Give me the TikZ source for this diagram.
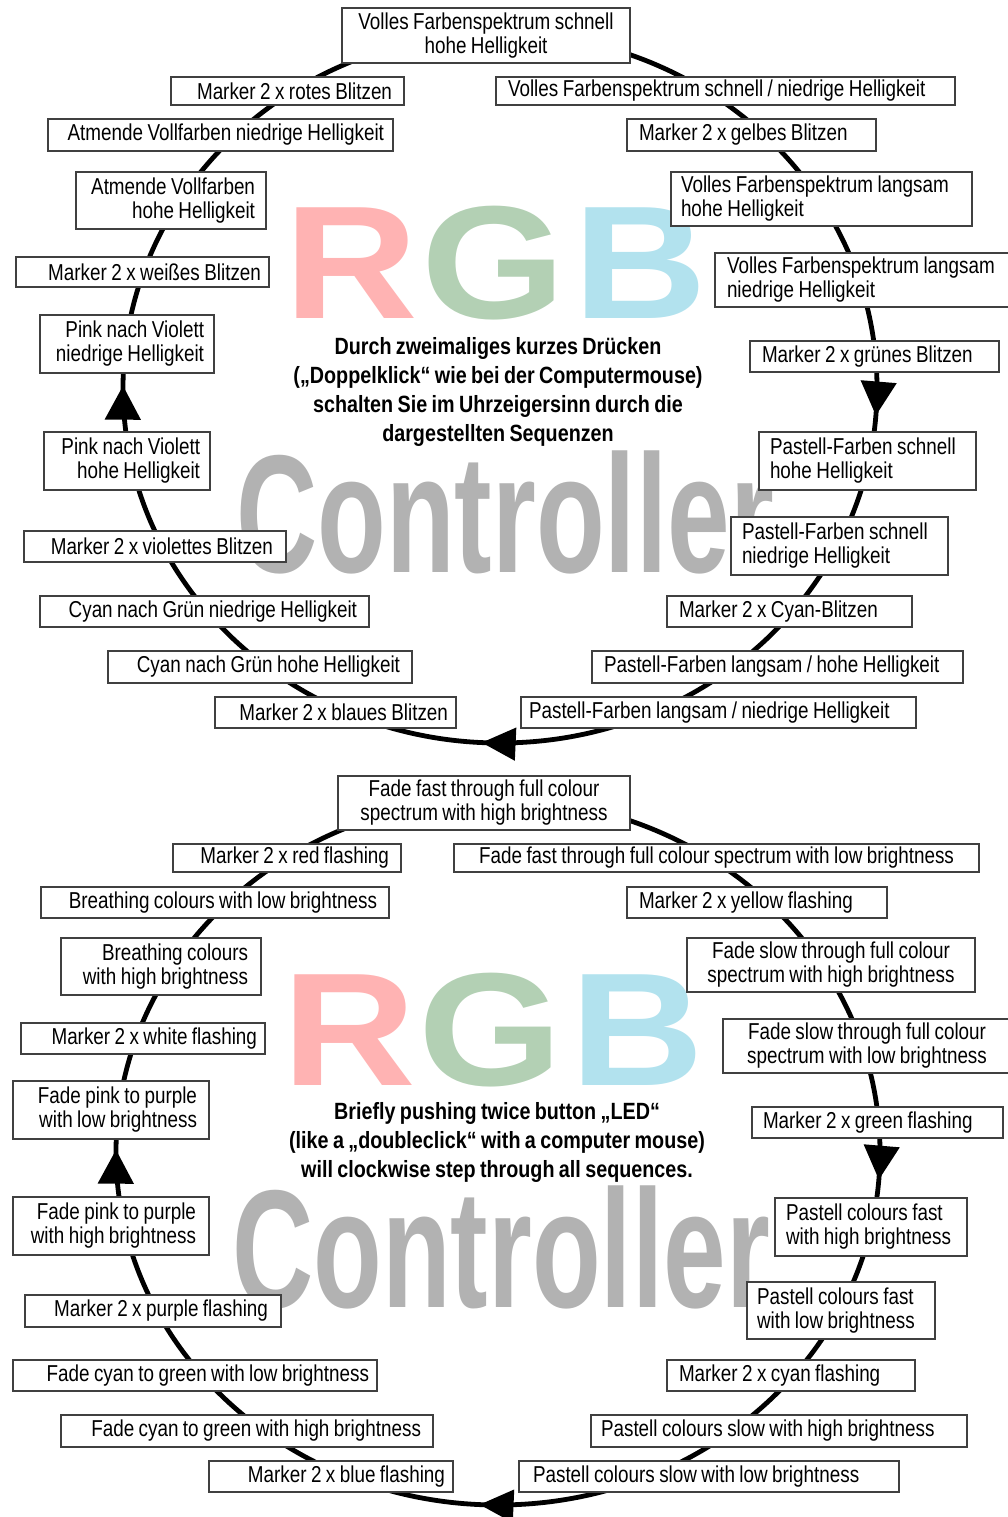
\documentclass[tikz,border=0pt]{standalone}
\usepackage{fontspec}
\setmainfont{Liberation Sans}[FakeStretch=0.82,WordSpace=0.85]
\newfontfamily\rgbfont{Liberation Sans}[FakeStretch=1.15]
\newfontfamily\ctrlfont{Liberation Sans}[FakeStretch=0.67]
\newfontfamily\notefont{Liberation Sans}[FakeStretch=0.84,WordSpace=0.8]
\usetikzlibrary{arrows.meta,decorations.markings}

\definecolor{rgbred}{RGB}{255,179,179}
\definecolor{rgbgreen}{RGB}{179,208,180}
\definecolor{rgbblue}{RGB}{178,226,238}
\definecolor{ctrlgray}{RGB}{178,178,178}

\tikzset{
  seq/.style={draw=black!75, line width=1.2pt, fill=white, inner ysep=0pt, font=\fontsize{23}{24}\selectfont},
  seql/.style={seq, align=flush left},
  seqr/.style={seq, align=flush right},
  seqc/.style={seq, align=center, inner xsep=0pt},
  ring/.style={line width=4.8pt, postaction={decorate}, decoration={markings,
      mark=at position 0.012 with {\arrow{Triangle[length=34pt,width=35pt]}},
      mark=at position 0.258 with {\arrow{Triangle[length=34pt,width=32pt]}},
      mark=at position 0.501 with {\arrow{Triangle[length=34pt,width=35pt]}}}},
  rgbletter/.style={inner sep=0pt, anchor=base, text height=116pt, text depth=0pt, font=\rgbfont\bfseries\fontsize{161}{161}\selectfont},
  ctrl/.style={inner sep=0pt, anchor=base, text height=121pt, text depth=0pt, text=ctrlgray, font=\ctrlfont\bfseries\fontsize{168}{168}\selectfont},
  note/.style={inner sep=0pt, align=center, font=\notefont\bfseries\fontsize{23.5}{28.7}\selectfont}
}

\begin{document}
\begin{tikzpicture}[x=1pt,y=1pt,yscale=-1,xscale=1]
\useasboundingbox (0,0) rectangle (1007,1517);

% Background lettering
\node [rgbletter, text=rgbred] (r1) at (351.5,318) {R};
\node [rgbletter, text=rgbgreen] (g1) at (494,318) {G};
\node [rgbletter, text=rgbblue] (bl1) at (640,318) {B};
\node [ctrl] (ctl1) at (505,572) {Controller};
\node [rgbletter, text=rgbred] (r2) at (349.5,1085) {R};
\node [rgbletter, text=rgbgreen] (g2) at (491,1085) {G};
\node [rgbletter, text=rgbblue] (bl2) at (637,1085) {B};
\node [ctrl] (ctl2) at (501,1307) {Controller};

% Text Node
\node [note] (hint1) at (498,392) {Durch zweimaliges kurzes Drücken\\(„Doppelklick“ wie bei der Computermouse)\\schalten Sie im Uhrzeigersinn durch die\\dargestellten Sequenzen};
% Text Node
\node [note] (hint2) at (497,1142.5) {Briefly pushing twice button „LED“\\(like a „doubleclick“ with a computer mouse)\\will clockwise step through all sequences.};

%Ring top
\coordinate (o1) at (500,388);
\draw [ring] (o1) ellipse [x radius=377, y radius=355];
%Ring bottom
\coordinate (o2) at (498,1152);
\draw [ring] (o2) ellipse [x radius=382, y radius=353];

% German sequence, clockwise from the top
\node [seqc, minimum width=288pt, minimum height=55pt] (a1) at (486,35.5) {Volles Farbenspektrum schnell\\hohe Helligkeit};
\node [seql, text width=435pt, inner xsep=12pt, minimum height=28pt] (a2) at (725.5,91) {Volles Farbenspektrum schnell / niedrige Helligkeit};
\node [seql, text width=225pt, inner xsep=12pt, minimum height=32pt] (a3) at (751.5,135) {Marker 2 x gelbes Blitzen};
\node [seql, text width=281pt, inner xsep=10pt, minimum height=54pt] (a4) at (821.5,199) {Volles Farbenspektrum langsam\\hohe Helligkeit};
\node [seql, text width=281pt, inner xsep=12pt, minimum height=54pt] (a5) at (867.5,280) {Volles Farbenspektrum langsam\\niedrige Helligkeit};
\node [seql, text width=225pt, inner xsep=12pt, minimum height=31pt] (a6) at (874.5,356.5) {Marker 2 x grünes Blitzen};
\node [seql, text width=195pt, inner xsep=11pt, minimum height=58pt] (a7) at (867.5,461) {Pastell-Farben schnell\\hohe Helligkeit};
\node [seql, text width=195pt, inner xsep=11pt, minimum height=58pt] (a8) at (839.5,546) {Pastell-Farben schnell\\niedrige Helligkeit};
\node [seql, text width=221pt, inner xsep=12pt, minimum height=31pt] (a9) at (789.5,611.5) {Marker 2 x Cyan-Blitzen};
\node [seql, text width=347pt, inner xsep=12pt, minimum height=32pt] (a10) at (777.5,667) {Pastell-Farben langsam / hohe Helligkeit};
\node [seql, text width=379pt, inner xsep=8pt, minimum height=31pt] (a11) at (718.5,712.5) {Pastell-Farben langsam / niedrige Helligkeit};
\node [seqr, text width=225pt, inner xsep=8pt, minimum height=31pt] (a12) at (335.5,712.5) {Marker 2 x blaues Blitzen};
\node [seqr, text width=280pt, inner xsep=12pt, minimum height=32pt] (a13) at (260,667) {Cyan nach Grün hohe Helligkeit};
\node [seqr, text width=305pt, inner xsep=12pt, minimum height=31pt] (a14) at (204.5,611.5) {Cyan nach Grün niedrige Helligkeit};
\node [seqr, text width=236pt, inner xsep=13pt, minimum height=31pt] (a15) at (155,546.5) {Marker 2 x violettes Blitzen};
\node [seqr, text width=146pt, inner xsep=10pt, minimum height=58pt] (a16) at (127,461) {Pink nach Violett\\hohe Helligkeit};
\node [seqr, text width=154pt, inner xsep=10pt, minimum height=58pt] (a17) at (127,344) {Pink nach Violett\\niedrige Helligkeit};
\node [seqr, text width=237pt, inner xsep=8pt, minimum height=30pt] (a18) at (142.5,272) {Marker 2 x weißes Blitzen};
\node [seqr, text width=168pt, inner xsep=11pt, minimum height=57pt] (a19) at (171,200.5) {Atmende Vollfarben\\hohe Helligkeit};
\node [seqr, text width=327pt, inner xsep=9pt, minimum height=32pt] (a20) at (220.5,135) {Atmende Vollfarben niedrige Helligkeit};
\node [seqr, text width=209pt, inner xsep=12pt, minimum height=28pt] (a21) at (287.5,91) {Marker 2 x rotes Blitzen};

% English sequence, clockwise from the top
\node [seqc, minimum width=292pt, minimum height=54pt] (b1) at (484,803) {Fade fast through full colour\\spectrum with high brightness};
\node [seqc, minimum width=525pt, minimum height=28pt] (b2) at (716.5,858) {Fade fast through full colour spectrum with low brightness};
\node [seql, text width=236pt, inner xsep=12pt, minimum height=31pt] (b3) at (757,902.5) {Marker 2 x yellow flashing};
\node [seqc, minimum width=288pt, minimum height=54pt] (b4) at (831,965) {Fade slow through full colour\\spectrum with high brightness};
\node [seqc, minimum width=288pt, minimum height=54pt] (b5) at (867,1046) {Fade slow through full colour\\spectrum with low brightness};
\node [seql, text width=229pt, inner xsep=11pt, minimum height=31pt] (b6) at (877.5,1122.5) {Marker 2 x green flashing};
\node [seql, text width=170pt, inner xsep=11pt, minimum height=58pt] (b7) at (871,1227) {Pastell colours fast\\with high brightness};
\node [seql, text width=168pt, inner xsep=10pt, minimum height=57pt] (b8) at (841,1310.5) {Pastell colours fast\\with low brightness};
\node [seql, text width=224pt, inner xsep=12pt, minimum height=31pt] (b9) at (791,1375.5) {Marker 2 x cyan flashing};
\node [seql, text width=356pt, inner xsep=10pt, minimum height=32pt] (b10) at (779,1431) {Pastell colours slow with high brightness};
\node [seql, text width=352pt, inner xsep=14pt, minimum height=31pt] (b11) at (709,1476.5) {Pastell colours slow with low brightness};
\node [seqr, text width=228pt, inner xsep=8pt, minimum height=31pt] (b12) at (331,1476.5) {Marker 2 x blue flashing};
\node [seqr, text width=348pt, inner xsep=12pt, minimum height=32pt] (b13) at (247,1431) {Fade cyan to green with high brightness};
\node [seqr, text width=348pt, inner xsep=8pt, minimum height=31pt] (b14) at (195,1375.5) {Fade cyan to green with low brightness};
\node [seqr, text width=230pt, inner xsep=13pt, minimum height=32pt] (b15) at (153,1311) {Marker 2 x purple flashing};
\node [seqr, text width=170pt, inner xsep=13pt, minimum height=58pt] (b16) at (111,1226) {Fade pink to purple\\with high brightness};
\node [seqr, text width=172pt, inner xsep=12pt, minimum height=58pt] (b17) at (111,1110) {Fade pink to purple\\with low brightness};
\node [seqr, text width=228pt, inner xsep=8pt, minimum height=31pt] (b18) at (143,1038.5) {Marker 2 x white flashing};
\node [seqr, text width=174pt, inner xsep=13pt, minimum height=57pt] (b19) at (161,966.5) {Breathing colours\\with high brightness};
\node [seqr, text width=324pt, inner xsep=12pt, minimum height=31pt] (b20) at (215,902.5) {Breathing colours with low brightness};
\node [seqr, text width=204pt, inner xsep=12pt, minimum height=28pt] (b21) at (287,858) {Marker 2 x red flashing};

\end{tikzpicture}
\end{document}
